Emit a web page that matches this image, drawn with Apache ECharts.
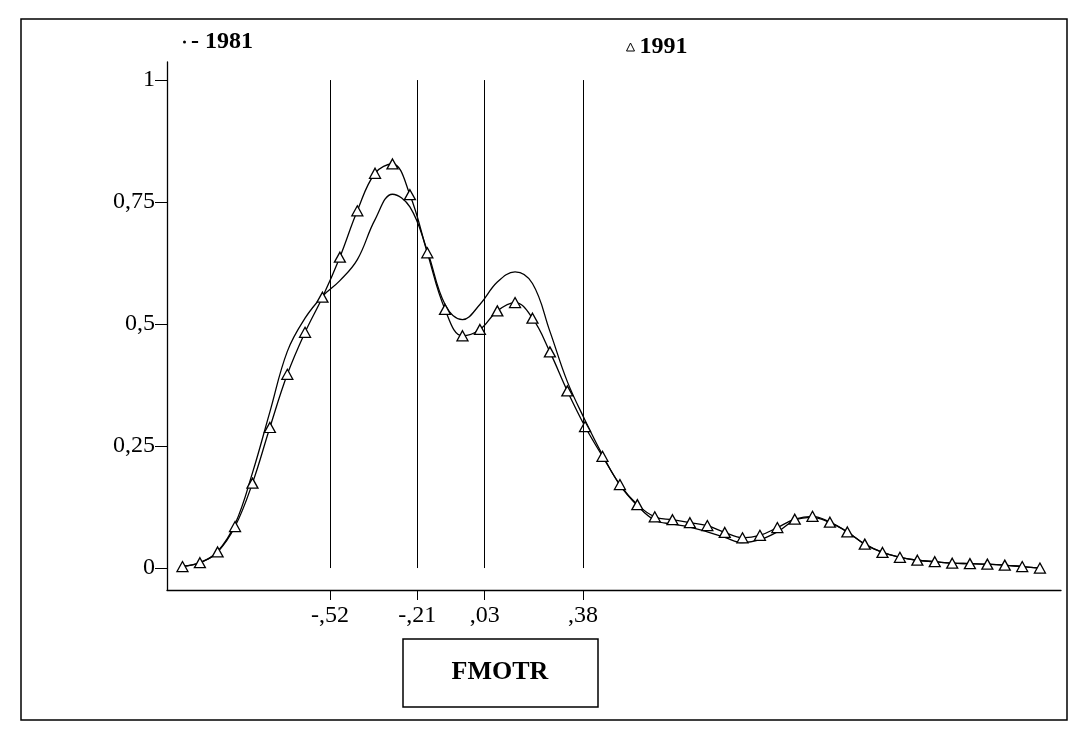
<!DOCTYPE html>
<html>
<head>
<meta charset="utf-8">
<title>FMOTR 1981 / 1991</title>
<script src="https://cdn.jsdelivr.net/npm/echarts@6/dist/echarts.min.js"></script>
<style>
  html, body { margin: 0; padding: 0; background: #fff; }
  #main { width: 1086px; height: 732px; }
</style>
</head>
<body>
<div id="main"></div>
<script>
// FMOTR grid points (the 1991 markers sit on these)
var xs = [-1.045, -0.983, -0.920, -0.858, -0.796, -0.734, -0.672, -0.609, -0.547, -0.485,
          -0.423, -0.360, -0.298, -0.236, -0.174, -0.111, -0.049, 0.013, 0.075, 0.138,
          0.200, 0.262, 0.324, 0.387, 0.449, 0.511, 0.573, 0.635, 0.698, 0.760,
          0.822, 0.884, 0.947, 1.009, 1.071, 1.133, 1.196, 1.258, 1.320, 1.382,
          1.445, 1.507, 1.569, 1.631, 1.693, 1.756, 1.818, 1.880, 1.942, 2.005];

// density, 1981 (plain line)
var y1981 = [0.004, 0.011, 0.034, 0.090, 0.195, 0.320, 0.444, 0.512, 0.557, 0.589,
             0.632, 0.714, 0.766, 0.740, 0.650, 0.540, 0.509, 0.540, 0.586, 0.607,
             0.583, 0.485, 0.382, 0.303, 0.232, 0.170, 0.128, 0.098, 0.090, 0.084,
             0.074, 0.063, 0.052, 0.058, 0.074, 0.098, 0.104, 0.093, 0.074, 0.049,
             0.032, 0.022, 0.016, 0.013, 0.010, 0.009, 0.008, 0.006, 0.003, 0.000];

// density, 1991 (triangles)
var y1991 = [0.003, 0.011, 0.033, 0.085, 0.174, 0.288, 0.397, 0.483, 0.555, 0.637,
             0.732, 0.809, 0.828, 0.765, 0.646, 0.530, 0.476, 0.489, 0.527, 0.544,
             0.512, 0.443, 0.363, 0.290, 0.229, 0.171, 0.130, 0.105, 0.099, 0.093,
             0.087, 0.073, 0.062, 0.067, 0.083, 0.100, 0.106, 0.094, 0.074, 0.049,
             0.032, 0.022, 0.016, 0.013, 0.010, 0.009, 0.008, 0.006, 0.003, 0.000];

// cut points (vertical lines) and their labels
var cuts = [-0.52, -0.21, 0.03, 0.38];
var cutLabels = ['-,52', '-,21', ',03', ',38'];

var yTicks = [0, 0.25, 0.5, 0.75, 1];
var yTickLabels = ['0', '0,25', '0,5', '0,75', '1'];

var font = 'Liberation Serif';

function pairs(ys) {
  return xs.map(function (x, i) { return [x, ys[i]]; });
}

function labelFor(values, labels, v) {
  for (var i = 0; i < values.length; i++) {
    if (Math.abs(values[i] - v) < 1e-9) return labels[i];
  }
  return '';
}

var chart = echarts.init(document.getElementById('main'));

var option = {
  backgroundColor: '#ffffff',
  animation: false,
  grid: {
    left: 167,
    right: 25,
    top: 62,
    bottom: 142,
    outerBoundsMode: 'none'
  },
  legend: [{
    data: ['1981'],
    left: 178,
    top: 25,
    icon: 'circle',
    itemWidth: 3,
    itemHeight: 3,
    selectedMode: false,
    formatter: '- {name}',
    itemStyle: { color: '#000' },
    textStyle: { fontFamily: font, fontWeight: 'bold', fontSize: 24, color: '#000' }
  }, {
    data: ['1991'],
    left: 621,
    top: 30,
    icon: 'triangle',
    itemWidth: 8,
    itemHeight: 8,
    selectedMode: false,
    itemStyle: { color: '#fff', borderColor: '#000', borderWidth: 1 },
    textStyle: { fontFamily: font, fontWeight: 'bold', fontSize: 24, color: '#000' }
  }],
  xAxis: {
    type: 'value',
    min: -1.1,
    max: 2.08,
    splitLine: { show: false },
    axisLine: { show: true, onZero: false, lineStyle: { color: '#000', width: 1.3 } },
    axisTick: {
      show: true,
      customValues: cuts,
      length: 10,
      lineStyle: { color: '#000', width: 1 }
    },
    axisLabel: {
      customValues: cuts,
      margin: 14,
      fontFamily: font,
      fontSize: 24,
      color: '#000',
      formatter: function (v) { return labelFor(cuts, cutLabels, v); }
    }
  },
  yAxis: {
    type: 'value',
    min: -0.045,
    max: 1.037,
    splitLine: { show: false },
    axisLine: { show: true, onZero: false, lineStyle: { color: '#000', width: 1.3 } },
    axisTick: {
      show: true,
      customValues: yTicks,
      length: 12,
      lineStyle: { color: '#000', width: 1 }
    },
    axisLabel: {
      customValues: yTicks,
      margin: 12,
      fontFamily: font,
      fontSize: 24,
      color: '#000',
      formatter: function (v) { return labelFor(yTicks, yTickLabels, v); }
    }
  },
  series: [{
    name: '1981',
    type: 'line',
    data: pairs(y1981),
    smooth: 0.4,
    symbol: 'none',
    showSymbol: false,
    z: 2,
    emphasis: { disabled: true },
    lineStyle: { color: '#000', width: 1.3 },
    markLine: {
      silent: true,
      symbol: ['none', 'none'],
      label: { show: false },
      lineStyle: { color: '#000', width: 1, type: 'solid' },
      data: cuts.map(function (c) {
        return [{ coord: [c, 0] }, { coord: [c, 1] }];
      })
    }
  }, {
    name: '1991',
    type: 'line',
    data: pairs(y1991),
    smooth: 0.4,
    symbol: 'triangle',
    symbolSize: [11, 10],
    showAllSymbol: true,
    z: 3,
    emphasis: { disabled: true },
    lineStyle: { color: '#000', width: 1.3 },
    itemStyle: { color: '#fff', borderColor: '#000', borderWidth: 1.3 }
  }],
  graphic: [{
    type: 'rect',
    silent: true,
    shape: { x: 21, y: 19, width: 1046, height: 701 },
    style: { fill: 'none', stroke: '#000', lineWidth: 1.5 }
  }, {
    type: 'rect',
    silent: true,
    shape: { x: 403, y: 639, width: 195, height: 68 },
    style: { fill: '#fff', stroke: '#000', lineWidth: 1.5 }
  }, {
    type: 'text',
    silent: true,
    x: 500,
    y: 672,
    style: {
      text: 'FMOTR',
      font: 'bold 26px "Liberation Serif"',
      fill: '#000',
      align: 'center',
      verticalAlign: 'middle'
    }
  }]
};

chart.setOption(option);
</script>
</body>
</html>
